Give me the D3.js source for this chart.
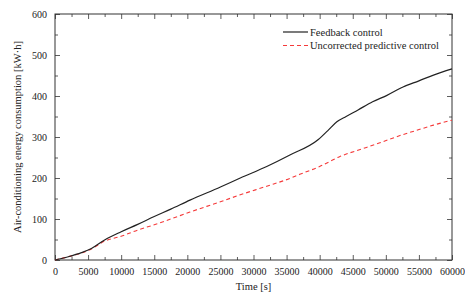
<!DOCTYPE html>
<html>
<head>
<meta charset="utf-8">
<script src="https://cdn.jsdelivr.net/npm/d3@7"></script>
<style>
  body { margin: 0; background: #fff; }
  text { font-family: "Liberation Serif", "Times New Roman", serif; fill: #222; }
</style>
</head>
<body>
<svg id="chart" width="465" height="295"></svg>
<script>
// data
var feedbackT = [0, 2000, 4000, 5500, 7500, 10000, 12500, 15000, 17500, 20400, 25000, 28000, 32000, 35500, 39800, 41200, 42600, 44000, 45800, 48000, 50100, 52600, 55000, 57200, 60000];
var feedbackE = [0, 8, 18, 28, 49, 69, 87, 106, 124, 146, 178, 200, 228, 256, 294, 315, 337, 350, 366, 386, 401, 422, 437, 451, 466];
var predictT = [0, 2000, 4000, 5500, 7500, 10000, 12500, 15000, 17500, 20400, 25000, 28000, 32000, 35500, 37000, 40000, 43000, 46600, 49100, 52600, 54400, 57200, 60000];
var predictE = [0, 8, 17, 27, 46, 58, 73, 86, 100, 117, 142, 159, 180, 199, 209, 228, 252, 272, 286, 306, 315, 329, 341];
var xTicks = [0, 5000, 10000, 15000, 20000, 25000, 30000, 35000, 40000, 45000, 50000, 55000, 60000];
var yTicks = [0, 100, 200, 300, 400, 500, 600];
var seriesNames = ["Feedback control", "Uncorrected predictive control"];

var margin = {left: 55, right: 13, top: 14, bottom: 35};
var W = 465, H = 295;
var svg = d3.select("#chart");

var x = d3.scaleLinear().domain([0, 60000]).range([margin.left, W - margin.right]);
var y = d3.scaleLinear().domain([0, 600]).range([H - margin.bottom, margin.top]);

var g = svg.append("g");

// minor + major ticks, inward on all four sides
function drawTicks(makeAxis, transform, minorVals, majorVals, labels) {
    var minor = g.append("g").attr("transform", transform)
        .call(makeAxis().tickValues(minorVals).tickSize(-3).tickFormat(""));
    var major = g.append("g").attr("transform", transform)
        .call(makeAxis().tickValues(majorVals).tickSize(-5).tickFormat(labels ? d3.format("d") : ""));
    [minor, major].forEach(function(a) {
        a.select(".domain").remove();
        a.selectAll("line").attr("stroke", "#333").attr("stroke-width", 0.8);
        a.selectAll("text").style("font-size", "10px").style("font-family", "Liberation Serif");
    });
    return major;
}

var xMinor = d3.range(2500, 60000, 5000);
var yMinor = d3.range(50, 600, 100);

var bx = drawTicks(function() { return d3.axisBottom(x); }, "translate(0," + y(0) + ")", xMinor, xTicks, true);
bx.selectAll("text").attr("y", 8);
drawTicks(function() { return d3.axisTop(x); }, "translate(0," + y(600) + ")", xMinor, xTicks, false);
var ly = drawTicks(function() { return d3.axisLeft(y); }, "translate(" + x(0) + ",0)", yMinor, yTicks, true);
ly.selectAll("text").attr("x", -8);
drawTicks(function() { return d3.axisRight(y); }, "translate(" + x(60000) + ",0)", yMinor, yTicks, false);

// frame
g.append("rect")
    .attr("x", x(0)).attr("y", y(600))
    .attr("width", x(60000) - x(0)).attr("height", y(0) - y(600))
    .attr("fill", "none").attr("stroke", "#333").attr("stroke-width", 1);

var line = d3.line()
    .x(function(d) { return x(d[0]); })
    .y(function(d) { return y(d[1]); })
    .curve(d3.curveMonotoneX);

// predictive (red dashed)
g.append("path")
    .datum(d3.zip(predictT, predictE))
    .attr("d", line)
    .attr("fill", "none")
    .attr("stroke", "#f53a3a")
    .attr("stroke-width", 1.1)
    .attr("stroke-dasharray", "4,3");

// feedback (black)
g.append("path")
    .datum(d3.zip(feedbackT, feedbackE))
    .attr("d", line)
    .attr("fill", "none")
    .attr("stroke", "#222")
    .attr("stroke-width", 1.2);

// legend
var legend = g.append("g").attr("transform", "translate(283,32)");
legend.append("line").attr("x1", 0).attr("x2", 25).attr("y1", 0).attr("y2", 0)
    .attr("stroke", "#222").attr("stroke-width", 1.2);
legend.append("line").attr("x1", 0).attr("x2", 25).attr("y1", 13.5).attr("y2", 13.5)
    .attr("stroke", "#f53a3a").attr("stroke-width", 1.1).attr("stroke-dasharray", "4,3");
legend.selectAll("text.lg")
    .data(seriesNames)
    .enter().append("text")
    .attr("class", "lg")
    .attr("x", 27)
    .attr("y", function(d, i) { return i * 13.5 + 3.5; })
    .style("font-size", "10.5px")
    .text(function(d) { return d; });

// axis titles
g.append("text")
    .attr("x", (x(0) + x(60000)) / 2).attr("y", 290)
    .attr("text-anchor", "middle")
    .style("font-size", "10.5px")
    .text("Time [s]");

g.append("text")
    .attr("transform", "translate(21," + (y(300)) + ") rotate(-90)")
    .attr("text-anchor", "middle")
    .style("font-size", "10.5px")
    .text("Air-conditioning energy consumption [kW\u00b7h]");
</script>
</body>
</html>
